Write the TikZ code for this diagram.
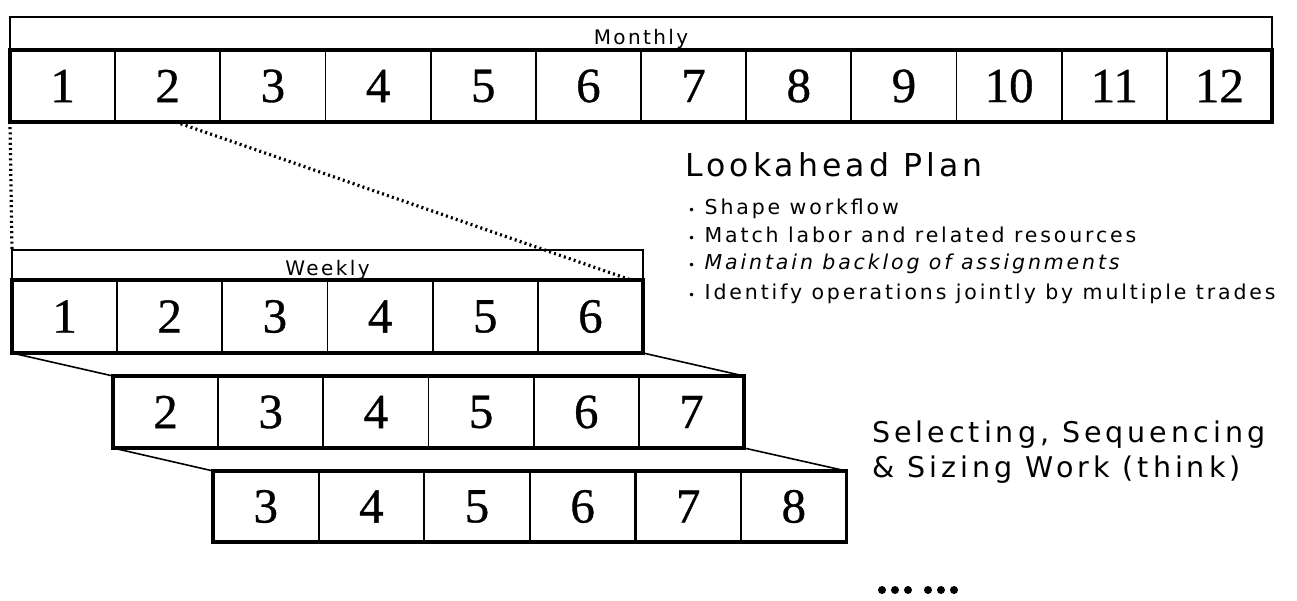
\documentclass[tikz,border=0pt]{standalone}
\usepackage{fontspec}
\setmainfont{Liberation Serif}
\newfontfamily\digitfont[FakeBold=0.7]{Liberation Serif}
\newfontfamily\hdrfont[LetterSpace=12]{DejaVu Sans}
\newfontfamily\lblfont[LetterSpace=14]{DejaVu Sans}
\newfontfamily\lookfont[LetterSpace=13]{DejaVu Sans}
\usetikzlibrary{positioning}
\tikzset{
  cell/.style={draw, line width=1.8pt, minimum width=105.2pt, minimum height=72pt, inner sep=0pt, outer sep=0pt,
    font=\digitfont\fontsize{49}{49}\selectfont},
  frame/.style={line width=3.6pt},
  hdr/.style={draw, line width=1.6pt, inner sep=0pt, outer sep=0pt},
  hdrtext/.style={font=\hdrfont\fontsize{20}{20}\selectfont, anchor=base, inner sep=0pt},
  dotline/.style={line width=3.2pt, dash pattern=on 2pt off 3.2pt},
  link/.style={line width=1.6pt},
  sidetext/.style={font=\lblfont\fontsize{28.5}{28.5}\selectfont, anchor=base west, inner sep=0pt},
  bultext/.style={font=\lblfont\fontsize{20.5}{20.5}\selectfont, anchor=base west, inner sep=0pt},
  dotmark/.style={circle, fill=black, inner sep=0pt, minimum size=8pt}
}
\newcommand{\bul}{{\fontsize{12}{12}\selectfont•}}
\begin{document}
\begin{tikzpicture}[x=1pt,y=-1pt]
\useasboundingbox (0,0) rectangle (1297,601);
% Monthly row
\foreach \i in {1,...,12} {
  \node[cell] (m\i) at ({10+105.17*(\i-0.5)},86) {\i};
}
\node[hdr, minimum width=1262pt, minimum height=33pt] (mhdr) at (641,33.5) {};
\node[hdrtext] (mlabel) at (641,45) {Monthly};
\draw[frame] (m1.north west) rectangle (m12.south east);
% Weekly row
\foreach \i in {1,...,6} {
  \node[cell, minimum height=73pt] (w\i) at ({12+105.17*(\i-0.5)},316.5) {\i};
}
\node[hdr, minimum width=631pt, minimum height=30pt] (whdr) at (327.5,265) {};
\node[hdrtext] (wlabel) at (327.5,276) {Weekly};
\draw[frame] (w1.north west) rectangle (w6.south east);
% Second row
\foreach \i [evaluate=\i as \n using int(\i+1)] in {1,...,6} {
  \node[cell] (a\i) at ({113+105.17*(\i-0.5)},412) {\n};
}
\draw[frame] (a1.north west) rectangle (a6.south east);
% Third row
\foreach \i [evaluate=\i as \n using int(\i+2)] in {1,...,6} {
  \node[cell, minimum height=71pt] (b\i) at ({213+105.6*(\i-0.5)},506.5) {\n};
}
\draw[frame] (b1.north west) rectangle (b6.south east);
% connectors
\coordinate (m2start) at ([xshift=8pt]m2.south);
\draw[dotline] (m1.south west) -- (whdr.north west);
\draw[dotline] (m2start) -- ([xshift=-12pt]w6.north east);
\draw[link] (w1.south west) -- (a1.north west);
\draw[link] (w6.south east) -- (a6.north east);
\draw[link] (a1.south west) -- (b1.north west);
\draw[link] (a6.south east) -- (b6.north east);
% Lookahead text
\node[font=\lookfont\fontsize{31.5}{31.5}\selectfont, anchor=base west, inner sep=0pt] (look) at (685,177) {Lookahead Plan};
\node[bultext] (bul1) at (688,215) {\bul{} Shape workflow};
\node[bultext] (bul2) at (688,243) {\bul{} Match labor and related resources};
\node[bultext] (bul3) at (688,270) {\bul{} \itshape Maintain backlog of assignments};
\node[bultext] (bul4) at (688,299) {\bul{} Identify operations jointly by multiple trades};
% Selecting text
\node[sidetext] (sel1) at (872,442) {Selecting, Sequencing};
\node[sidetext] (sel2) at (872,477) {\& Sizing Work (think)};
% dots
\foreach \k/\x in {1/882,2/895,3/908,4/928,5/941,6/954} {
  \node[dotmark] (dot\k) at (\x,590) {};
}
\end{tikzpicture}
\end{document}
